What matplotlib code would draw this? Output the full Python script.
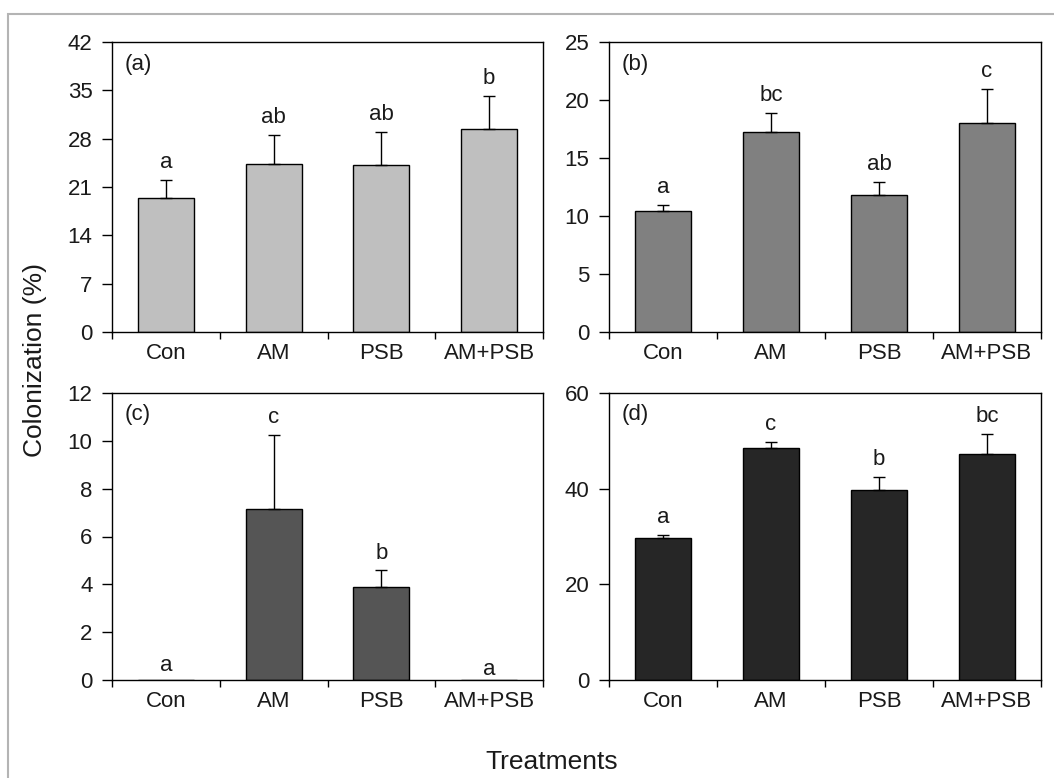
import matplotlib
matplotlib.use("Agg")
import matplotlib.pyplot as plt
from matplotlib.patches import Rectangle

plt.rcParams["font.family"] = ["Liberation Sans", "DejaVu Sans"]

# data
treatments = ["Con", "AM", "PSB", "AM+PSB"]

col_a = [19.4, 24.4, 24.2, 29.45]
err_a = [2.55, 4.1, 4.8, 4.75]
let_a = ["a", "ab", "ab", "b"]

col_b = [10.4, 17.24, 11.84, 18.05]
err_b = [0.58, 1.64, 1.12, 2.87]
let_b = ["a", "bc", "ab", "c"]

col_c = [0.0, 7.15, 3.88, 0.0]
err_c = [0.0, 3.11, 0.7, 0.0]
let_c = ["a", "c", "b", "a"]

col_d = [29.6, 48.6, 39.65, 47.2]
err_d = [0.8, 1.2, 2.75, 4.2]
let_d = ["a", "c", "b", "bc"]

panels = [
    ("(a)", col_a, err_a, let_a, "#bfbfbf", [0, 7, 14, 21, 28, 35, 42]),
    ("(b)", col_b, err_b, let_b, "#808080", [0, 5, 10, 15, 20, 25]),
    ("(c)", col_c, err_c, let_c, "#555555", [0, 2, 4, 6, 8, 10, 12]),
    ("(d)", col_d, err_d, let_d, "#262626", [0, 20, 40, 60]),
]

W, H = 1054, 778
fig = plt.figure(figsize=(W / 100, H / 100), dpi=100)

# light frame around the figure (top and left edges visible)
fig.patches.append(Rectangle((8 / W, -0.05), 1.2, 1 - 14 / H + 0.05,
                             transform=fig.transFigure, fill=False,
                             edgecolor="#b4b4b4", lw=1.5))

# axes boxes in pixels: left, top, right, bottom
boxes = [(112, 42, 543, 332), (609, 42, 1041, 332),
         (112, 393, 543, 680), (609, 393, 1041, 680)]

txt = "#1a1a1a"
for (lab, vals, errs, lets, color, yt), (l, t, r, b) in zip(panels, boxes):
    ax = fig.add_axes([l / W, 1 - b / H, (r - l) / W, (b - t) / H])
    x = range(len(treatments))
    ax.bar(x, vals, width=0.52, color=color, edgecolor="black", linewidth=1.0,
           zorder=2)
    for xi, v, e in zip(x, vals, errs):
        if e > 0:
            ax.errorbar(xi, v, yerr=[[0], [e]], fmt="none", ecolor="black",
                        elinewidth=1.0, capsize=4, capthick=1.0, zorder=3)
    top = yt[-1]
    for xi, v, e, s in zip(x, vals, errs, lets):
        off = 5 if v + e > 0 else 3
        if lab == "(c)" and xi == 3:
            off = 0
        ax.annotate(s, (xi, v + e), xytext=(0, off), textcoords="offset points",
                    ha="center", va="bottom", fontsize=16, color=txt)
    ax.set_xlim(-0.5, 3.5)
    ax.set_ylim(0, top)
    ax.set_yticks(yt)
    ax.set_xticks([-0.5, 0.5, 1.5, 2.5, 3.5])
    ax.set_xticklabels([])
    ax.set_xticks(list(x), minor=True)
    ax.set_xticklabels(treatments, minor=True)
    ax.tick_params(axis="x", which="major", direction="out", length=5, width=1)
    ax.tick_params(axis="x", which="minor", length=0, pad=8, labelsize=16,
                   labelcolor=txt)
    ax.tick_params(axis="y", direction="out", length=7, width=1, pad=7,
                   labelsize=16, labelcolor=txt)
    for sp in ax.spines.values():
        sp.set_linewidth(1.0)
    ax.text(0.03, 0.96, lab, transform=ax.transAxes, ha="left", va="top",
            fontsize=16, color=txt)

fig.text(35 / W, 1 - 360 / H, "Colonization (%)", rotation=90, ha="center",
         va="center", fontsize=19, color=txt)
fig.text(552 / W, 1 - 762 / H, "Treatments", ha="center", va="center",
         fontsize=19, color=txt)

fig.savefig("out.png", dpi=100)
